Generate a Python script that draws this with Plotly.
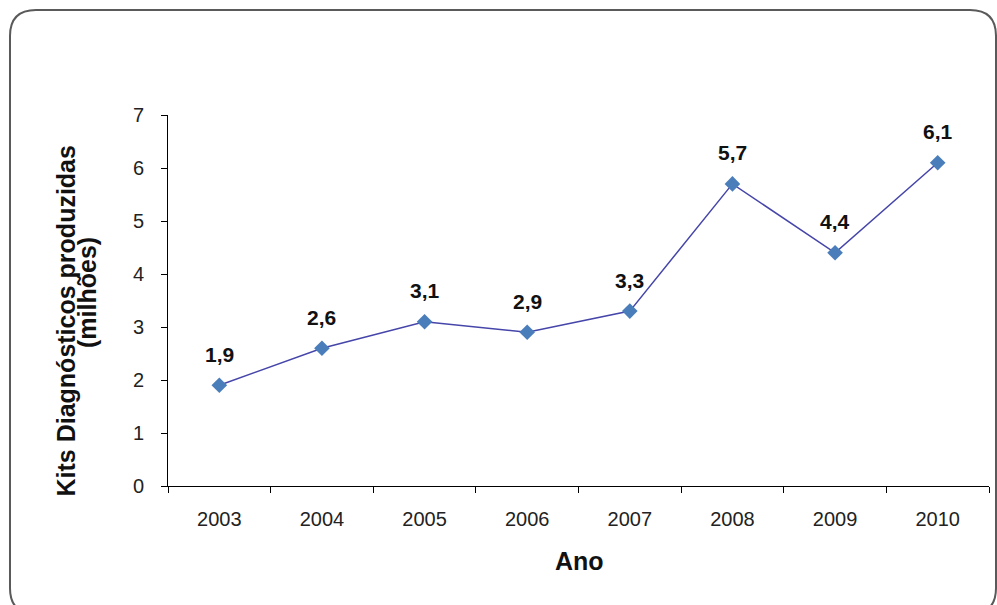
import plotly.graph_objects as go

anos = ["2003", "2004", "2005", "2006", "2007", "2008", "2009", "2010"]
kits = [1.9, 2.6, 3.1, 2.9, 3.3, 5.7, 4.4, 6.1]
y_ticks = [0, 1, 2, 3, 4, 5, 6, 7]
titulo_y = ["Kits Diagnósticos produzidas", "(milhões)"]
titulo_x = "Ano"

W, H = 997, 605
L, R, T, B = 168, 8, 115, 119
PW, PH = W - L - R, H - T - B

def fx(px):
    return (px - L) / PW

def fy(py):
    return (H - B - py) / PH

def rounded_rect(x0, y0, x1, y1, r):
    pts = [
        ("M", (x0 + r, y0)),
        ("L", (x1 - r, y0)),
        ("Q", (x1, y0), (x1, y0 + r)),
        ("L", (x1, y1 - r)),
        ("Q", (x1, y1), (x1 - r, y1)),
        ("L", (x0 + r, y1)),
        ("Q", (x0, y1), (x0, y1 - r)),
        ("L", (x0, y0 + r)),
        ("Q", (x0, y0), (x0 + r, y0)),
    ]
    s = []
    for p in pts:
        cmd = p[0]
        coords = " ".join(f"{fx(a):.5f},{fy(b):.5f}" for a, b in p[1:])
        s.append(f"{cmd} {coords}")
    return " ".join(s) + " Z"

font_family = "Liberation Sans, Arial, sans-serif"

fig = go.Figure()
fig.add_trace(go.Scatter(
    x=anos, y=kits,
    mode="lines+markers",
    line=dict(color="#4545aa", width=1.5),
    marker=dict(symbol="diamond", size=12, color="#4a7ebb"),
    cliponaxis=False,
    showlegend=False,
    hoverinfo="skip",
))

annotations = []
for i, v in enumerate(kits):
    annotations.append(dict(
        x=i, y=v, xref="x", yref="y", showarrow=False,
        text=f"{v:.1f}".replace(".", ","), yshift=31,
        font=dict(family=font_family, size=21, color="#111111", weight="bold"),
    ))
annotations.append(dict(
    x=fx(65.5), y=fy(321), xref="paper", yref="paper", showarrow=False,
    text=titulo_y[0], textangle=-90, xanchor="center", yanchor="middle",
    font=dict(family=font_family, size=25, color="#111111", weight="bold"),
))
annotations.append(dict(
    x=fx(87), y=fy(293), xref="paper", yref="paper", showarrow=False,
    text=titulo_y[1], textangle=-90, xanchor="center", yanchor="middle",
    font=dict(family=font_family, size=25, color="#111111", weight="bold"),
))
annotations.append(dict(
    x=fx(579), y=fy(561), xref="paper", yref="paper", showarrow=False,
    text=titulo_x, xanchor="center", yanchor="middle",
    font=dict(family=font_family, size=25, color="#111111", weight="bold"),
))

fig.update_layout(
    width=W, height=H,
    margin=dict(l=L, r=R, t=T, b=B, pad=0),
    paper_bgcolor="white", plot_bgcolor="white",
    font=dict(family=font_family, color="#222222"),
    annotations=annotations,
    shapes=[dict(
        type="path", xref="paper", yref="paper",
        path=rounded_rect(10, 10, 996, 614, 26),
        line=dict(color="#5a5a5a", width=2), layer="below",
    )],
    xaxis=dict(
        type="category", range=[-0.5, 7.5],
        showline=True, linecolor="#000000", linewidth=1,
        ticks="outside", ticklen=6, tickcolor="#000000", tickson="boundaries",
        showgrid=False, zeroline=False,
        tickfont=dict(family=font_family, size=20, color="#222222"),
        ticklabelstandoff=15,
    ),
    yaxis=dict(
        range=[0, 7], tickvals=y_ticks,
        showline=True, linecolor="#000000", linewidth=1,
        ticks="outside", ticklen=6, tickcolor="#000000",
        showgrid=False, zeroline=False,
        tickfont=dict(family=font_family, size=20, color="#222222"),
        ticklabelstandoff=13,
    ),
)

fig.write_html("out.html", config={"displayModeBar": False},
               post_script="document.body.style.margin='0';document.body.style.overflow='hidden';")
